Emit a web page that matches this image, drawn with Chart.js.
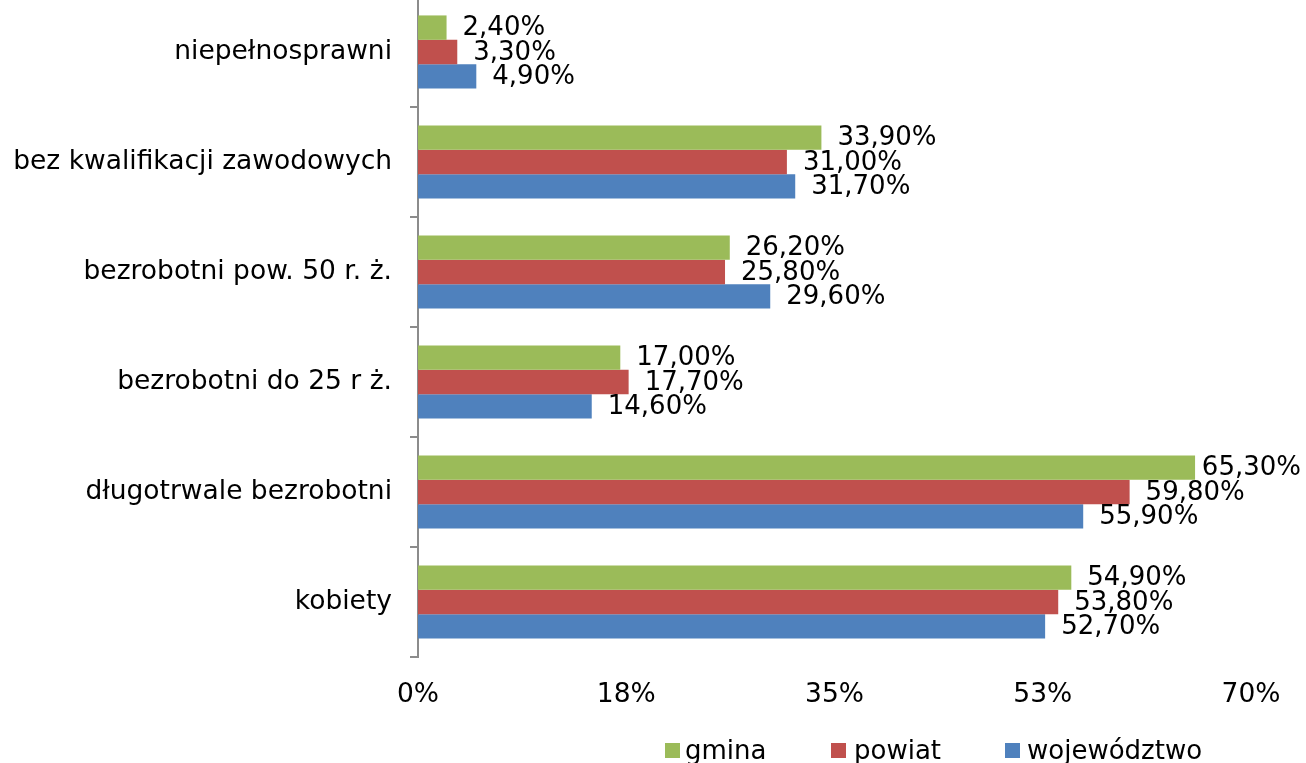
<!DOCTYPE html>
<html>
<head>
<meta charset="utf-8">
<script src="https://cdn.jsdelivr.net/npm/chart.js@4/dist/chart.umd.min.js"></script>
<style>
  html, body { margin: 0; padding: 0; background: #fff; width: 1306px; height: 763px; overflow: hidden; position: relative; }
  #c { position: absolute; left: 0; top: -3px; }
  .lg { position: absolute; top: 735px; font-family: "DejaVu Sans", Verdana, sans-serif; font-size: 26px; color: #000; line-height: 30px; white-space: nowrap; }
  .lg span.box { display: inline-block; width: 15px; height: 15px; vertical-align: 1px; }
</style>
</head>
<body>
<canvas id="c" width="1306" height="766"></canvas>
<div class="lg" style="left:665px"><span class="box" style="background:#9BBB59;margin-right:5px"></span>gmina</div>
<div class="lg" style="left:831px"><span class="box" style="background:#C0504D;margin-right:8px"></span>powiat</div>
<div class="lg" style="left:1005px"><span class="box" style="background:#4F81BD;margin-right:7px"></span>województwo</div>
<script>
const categories = ["niepełnosprawni", "bez kwalifikacji zawodowych", "bezrobotni pow. 50 r. ż.", "bezrobotni do 25 r ż.", "długotrwale bezrobotni", "kobiety"];
const seriesNames = ["gmina", "powiat", "województwo"];
const gmina = [2.4, 33.9, 26.2, 17.0, 65.3, 54.9];
const powiat = [3.3, 31.0, 25.8, 17.7, 59.8, 53.8];
const wojewodztwo = [4.9, 31.7, 29.6, 14.6, 55.9, 52.7];
const xTicks = [0, 17.5, 35, 52.5, 70];
const colors = ["#9BBB59", "#C0504D", "#4F81BD"];

const FONT = '"DejaVu Sans", Verdana, sans-serif';

const labelPlugin = {
  id: 'valueLabels',
  afterDatasetsDraw(chart) {
    const ctx = chart.ctx;
    ctx.save();
    ctx.font = '26px ' + FONT;
    ctx.fillStyle = '#000';
    ctx.textBaseline = 'middle';
    ctx.textAlign = 'left';
    chart.data.datasets.forEach((ds, di) => {
      const meta = chart.getDatasetMeta(di);
      meta.data.forEach((bar, i) => {
        const txt = ds.data[i].toFixed(2).replace('.', ',') + '%';
        const w = ctx.measureText(txt).width;
        let x = bar.x + 16;
        if (x + w > chart.width - 5) x = chart.width - 5 - w;
        ctx.fillText(txt, x, bar.y + 1);
      });
    });
    ctx.restore();
  }
};

new Chart(document.getElementById('c'), {
  type: 'bar',
  data: {
    labels: categories,
    datasets: [
      { label: seriesNames[0], data: gmina, backgroundColor: colors[0] },
      { label: seriesNames[1], data: powiat, backgroundColor: colors[1] },
      { label: seriesNames[2], data: wojewodztwo, backgroundColor: colors[2] }
    ]
  },
  options: {
    indexAxis: 'y',
    responsive: false,
    animation: false,
    devicePixelRatio: 1,
    categoryPercentage: 0.665,
    barPercentage: 1.0,
    layout: { padding: { left: 0, right: 55, top: 0, bottom: 0 } },
    plugins: {
      legend: { display: false },
      tooltip: { enabled: false }
    },
    scales: {
      x: {
        min: 0, max: 70,
        afterBuildTicks(scale) { scale.ticks = xTicks.map(v => ({ value: v })); },
        afterFit(scale) { scale.height = 106; },
        grid: { display: false },
        border: { display: false },
        ticks: {
          padding: 14,
          color: '#000',
          font: { family: FONT, size: 26.5 },
          maxRotation: 0,
          callback: v => Math.round(v) + '%'
        }
      },
      y: {
        afterFit(scale) { scale.width = 418; scale.paddingTop = 0; scale.paddingBottom = 0; },
        grid: { offset: true, drawOnChartArea: false, tickLength: 8, color: '#8c8c8c', lineWidth: 2 },
        border: { display: true, color: '#8c8c8c', width: 2 },
        ticks: {
          padding: 18,
          color: '#000',
          font: { family: FONT, size: 26.5 }
        }
      }
    }
  },
  plugins: [labelPlugin]
});
</script>
</body>
</html>
